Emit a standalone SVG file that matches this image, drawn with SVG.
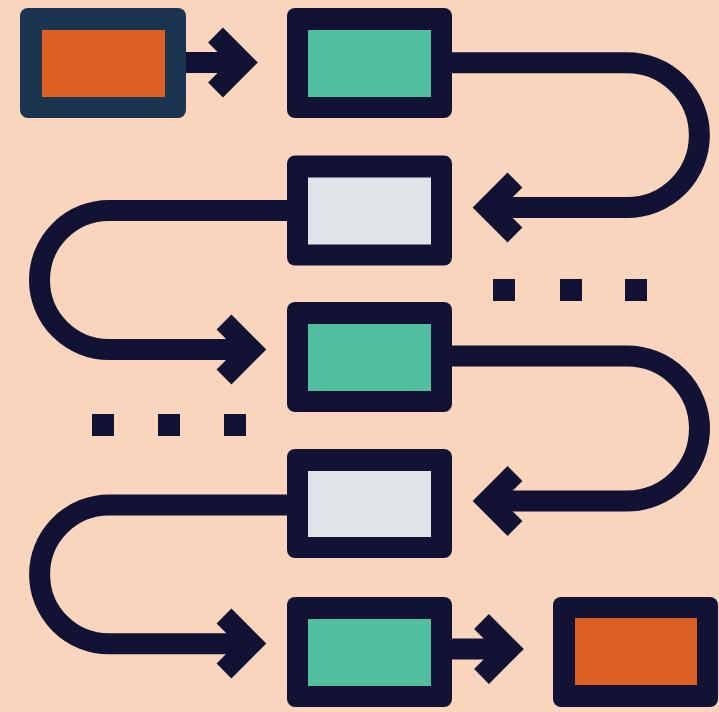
<svg xmlns="http://www.w3.org/2000/svg" width="719" height="712" viewBox="0 0 719 712">
<style>
.frame{fill:#121235}
.frame1{fill:#1B344F}
.orange{fill:#DC6024}
.green{fill:#52BF9F}
.gray{fill:#E0E3E8}
.line{fill:none;stroke:#121235;stroke-width:21;stroke-linecap:butt}
.head{fill:none;stroke:#121235;stroke-width:21;stroke-linejoin:miter;stroke-miterlimit:10;stroke-linecap:butt}
.dot{fill:#121235}
</style>
<rect width="719" height="712" fill="#F8D5BC"/>
<g id="connectors">
<path class="line" d="M186 62.5 H241"/>
<polyline class="head" points="215.5,35 243,62.5 215.5,90"/>
<path class="line" d="M452 62.8 H627 A72.35 72.35 0 0 1 627 207.5 H492"/>
<polyline class="head" points="515,180 487.5,207.5 515,235"/>
<path class="line" d="M287 210.5 H109 A69.5 69.5 0 0 0 109 349.5 H248"/>
<polyline class="head" points="224,322 251.5,349.5 224,377"/>
<path class="line" d="M452 356 H627 A72.5 72.5 0 0 1 627 501 H492"/>
<polyline class="head" points="515,473.5 487.5,501 515,528.5"/>
<path class="line" d="M287 505 H109 A69.4 69.4 0 0 0 109 643.8 H248"/>
<polyline class="head" points="224,616 251.5,643.5 224,671"/>
<path class="line" d="M452 649 H506"/>
<polyline class="head" points="481.5,621.5 509,649 481.5,676.5"/>
</g>
<g id="dots-right">
<rect class="dot" x="493" y="279" width="22" height="22"/>
<rect class="dot" x="560" y="279" width="22" height="22"/>
<rect class="dot" x="625" y="279" width="22" height="22"/>
</g>
<g id="dots-left">
<rect class="dot" x="92" y="414" width="22" height="22"/>
<rect class="dot" x="158" y="414" width="22" height="22"/>
<rect class="dot" x="224" y="414" width="22" height="22"/>
</g>
<g id="node1">
<rect class="frame1" x="20" y="8" width="166" height="110" rx="8"/>
<rect class="orange" x="42" y="30" width="123" height="67"/>
</g>
<g id="node2">
<rect class="frame" x="287" y="8" width="165" height="110" rx="8"/>
<rect class="green" x="308" y="30" width="123" height="67"/>
</g>
<g id="node3">
<rect class="frame" x="287" y="155.5" width="165" height="110" rx="8"/>
<rect class="gray" x="308" y="177.5" width="123" height="67"/>
</g>
<g id="node4">
<rect class="frame" x="287" y="302" width="165" height="110" rx="8"/>
<rect class="green" x="308" y="324" width="123" height="67"/>
</g>
<g id="node5">
<rect class="frame" x="287" y="449" width="165" height="109" rx="8"/>
<rect class="gray" x="308" y="471" width="123" height="66"/>
</g>
<g id="node6">
<rect class="frame" x="287" y="597" width="165" height="110" rx="8"/>
<rect class="green" x="308" y="619" width="123" height="67"/>
</g>
<g id="node7">
<rect class="frame" x="553" y="597" width="165" height="110" rx="8"/>
<rect class="orange" x="575" y="618" width="122" height="67"/>
</g>
</svg>
